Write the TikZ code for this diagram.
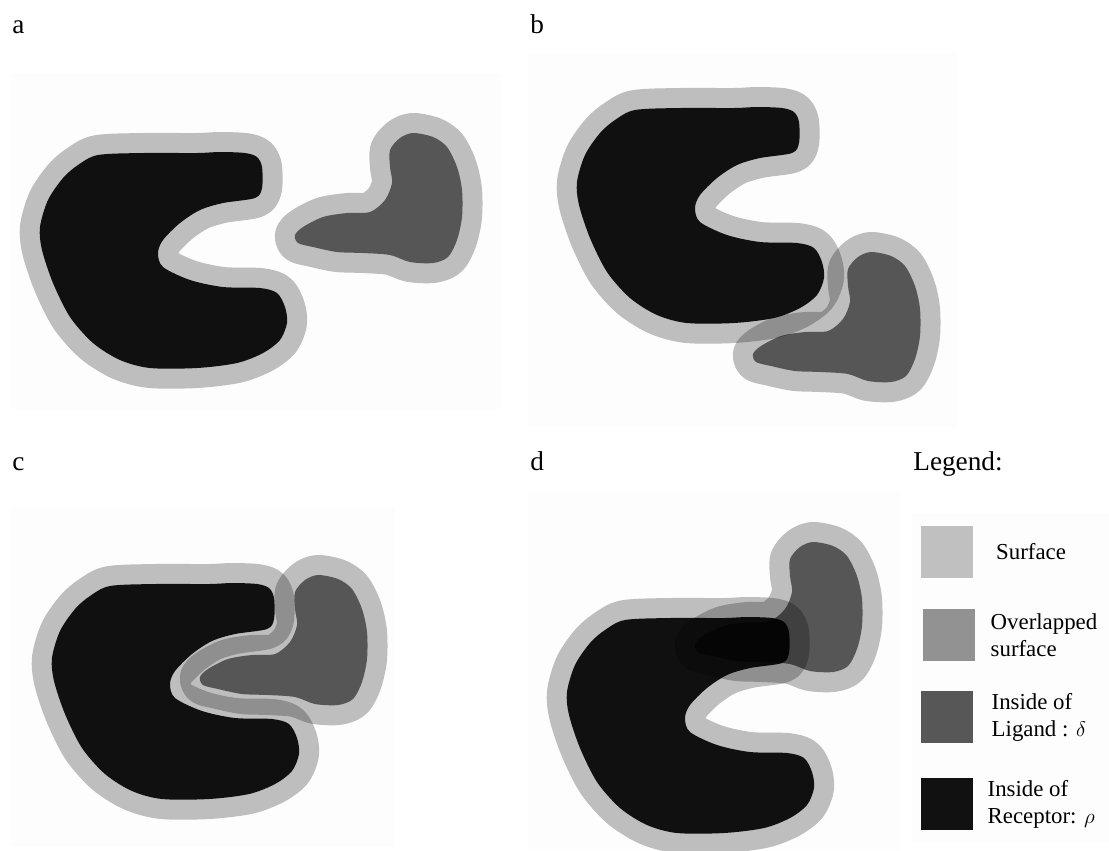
\documentclass[tikz,border=0pt]{standalone}
\usepackage{fontspec}
\setmainfont{Liberation Serif}
\usepackage{tikz}
\usetikzlibrary{positioning}
\definecolor{surf-grey}{HTML}{C0C0C0}
\definecolor{overlap-grey}{HTML}{929292}
\definecolor{ligand-grey}{HTML}{575757}
\definecolor{receptor-black}{HTML}{111111}
\definecolor{panel-white}{HTML}{FDFDFD}

\tikzset{
    surface/.style={draw=surf-grey, line width=0.8cm, line join=round},
    panel label/.style={anchor=base west, inner sep=0pt, font=\fontsize{15.5}{18}\selectfont},
    swatch/.style={minimum size=1.04cm, inner sep=0pt},
    legend text/.style={align=left, inner sep=0pt, font=\fontsize{13}{15.3}\selectfont},
    % receptor: black C with its surface layer
    receptor/.pic={
        \begin{scope}[transparency group]
        \begin{scope}[blend mode=normal]
            \path[fill=receptor-black, preaction={surface}]
                plot[smooth cycle, tension=0.5] coordinates {
                    (98,155) (143,153) (197,153) (220,152) (245,153) (257,157)
                    (262,167) (262,188) (255,198) (223,203) (200,210) (180,223)
                    (163,240) (158,253) (163,267) (190,280) (223,287) (260,288)
                    (277,293) (285,307) (287,323) (280,340) (263,353) (237,363)
                    (197,368) (150,368) (120,360) (93,343) (70,317) (53,283)
                    (42,250) (40,227) (48,200) (63,178) (78,165)};
        \end{scope}
        \end{scope}
    },
    % ligand: dark grey L with its surface layer
    ligand/.pic={
        \begin{scope}[transparency group]
        \begin{scope}[blend mode=normal]
            \path[fill=ligand-grey, preaction={surface}]
                plot[smooth cycle, tension=0.5] coordinates {
                    (390,150) (400,138) (413,133) (433,137) (447,147) (457,167)
                    (462,190) (462,217) (457,240) (448,257) (433,263) (410,262)
                    (390,255) (363,253) (337,252) (313,247) (298,243) (295,235)
                    (303,227) (323,217) (347,213) (370,212) (385,200) (392,183)
                    (390,167)};
        \end{scope}
        \end{scope}
    },
}

\begin{document}
\begin{tikzpicture}[x=0.02cm, y=-0.02cm]

    \useasboundingbox[fill=white] (0,0) rectangle (1109,850);

    % panel backgrounds
    \fill[panel-white] (10,73) rectangle (502,410);
    \fill[panel-white] (528,53) rectangle (957,427);
    \fill[panel-white] (10,507) rectangle (395,847);
    \fill[panel-white] (528,492) rectangle (900,850);
    \fill[panel-white] (912,513) rectangle (1109,842);

    % panel labels
    \node[panel label] (lbl-a) at (12,33) {a};
    \node[panel label] (lbl-b) at (530,33) {b};
    \node[panel label] (lbl-c) at (12,470) {c};
    \node[panel label] (lbl-d) at (530,470) {d};
    \node[panel label] (lbl-legend) at (913,470) {Legend:};

    % a: apart
    \begin{scope}[blend mode=multiply]
        \pic at (0,0) {receptor};
        \pic at (0,0) {ligand};
    \end{scope}

    % b: surfaces touching from below
    \begin{scope}[blend mode=multiply]
        \pic at (537,-45) {receptor};
        \pic at (458,119) {ligand};
    \end{scope}

    % c: ligand in the pocket
    \begin{scope}[blend mode=multiply]
        \pic at (12,431) {receptor};
        \pic at (-95,442) {ligand};
    \end{scope}

    % d: ligand through the upper arm
    \begin{scope}[blend mode=multiply]
        \pic at (527,465) {receptor};
        \pic at (400,409) {ligand};
    \end{scope}

    % legend
    \node[swatch, fill=surf-grey] (sw-surf) at (947,552) {};
    \node[swatch, fill=overlap-grey] (sw-overlap) at (949,635) {};
    \node[swatch, fill=ligand-grey] (sw-ligand) at (947,717) {};
    \node[swatch, fill=receptor-black] (sw-receptor) at (947,804) {};

    \node[legend text, right=0.45cm of sw-surf] (tx-surf) {Surface};
    \node[legend text, right=0.3cm of sw-overlap] (tx-overlap) {Overlapped\\surface};
    \node[legend text, right=0.36cm of sw-ligand] (tx-ligand) {Inside of\\Ligand : $\delta$};
    \node[legend text, right=0.28cm of sw-receptor] (tx-receptor) {Inside of\\Receptor: $\rho$};

\end{tikzpicture}
\end{document}
